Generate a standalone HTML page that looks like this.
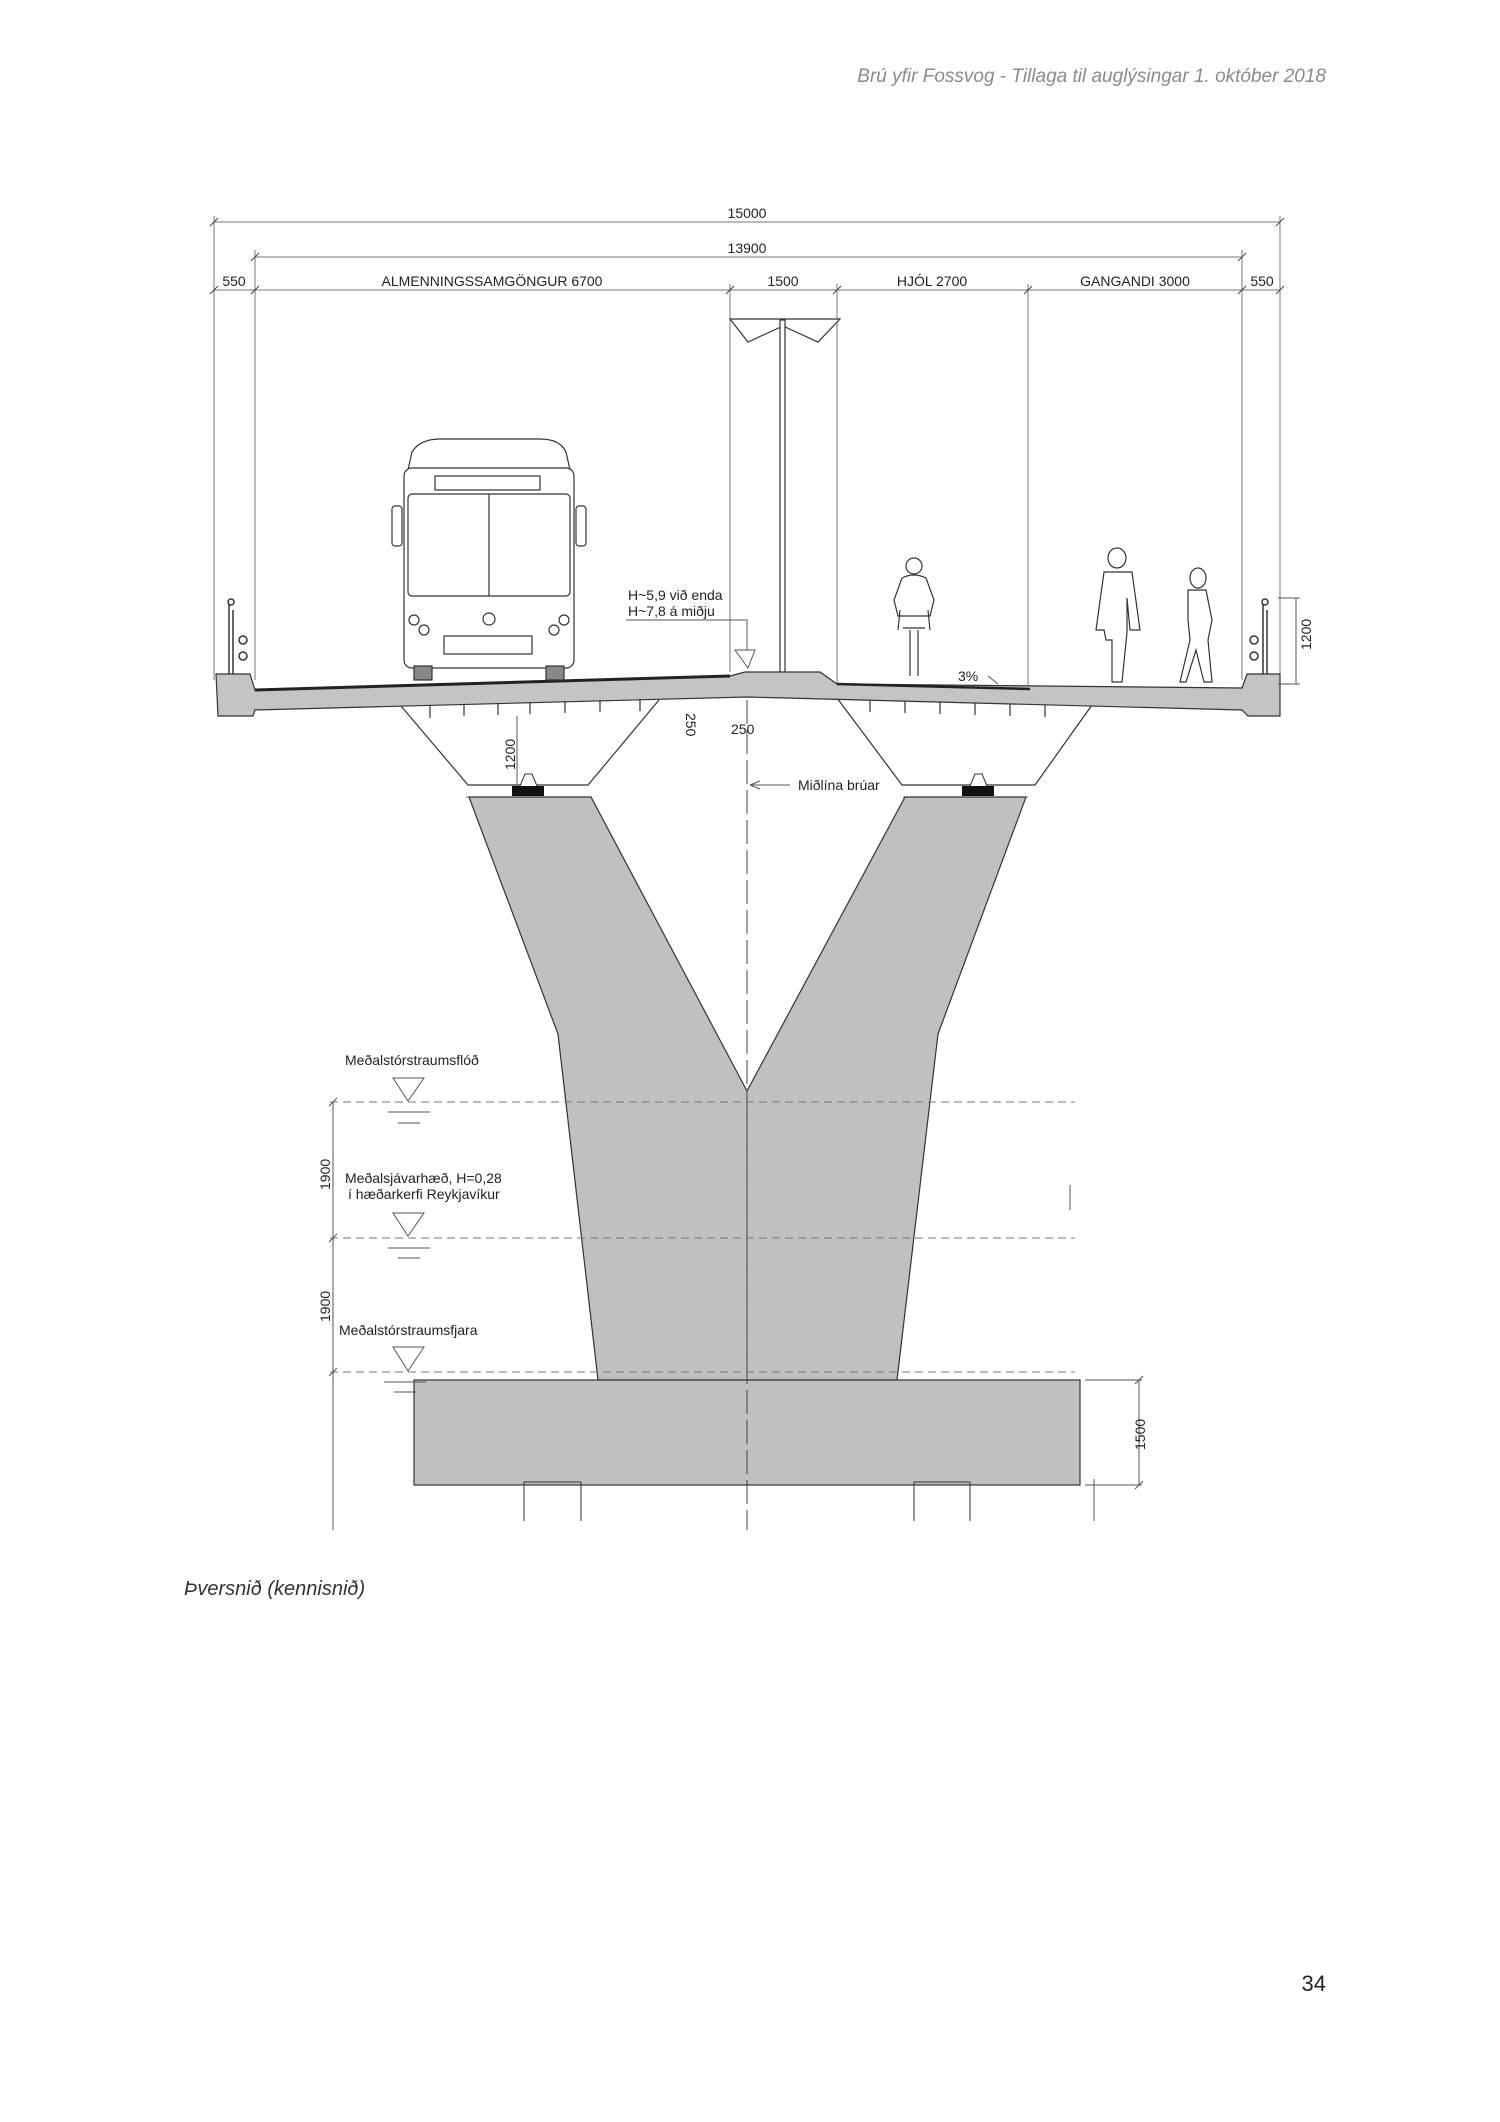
<!DOCTYPE html>
<html><head><meta charset="utf-8"><style>
html,body{margin:0;padding:0;background:#fff;}
body{width:1500px;height:2122px;position:relative;overflow:hidden;}
svg{position:absolute;left:0;top:0;}
</style></head><body>
<svg width="1500" height="2122" viewBox="0 0 1500 2122" xmlns="http://www.w3.org/2000/svg" font-family="Liberation Sans, sans-serif">
<text x="1326" y="82" text-anchor="end" font-size="19" font-style="italic" fill="#8a8a8a" font-family="Liberation Sans, DejaVu Sans, sans-serif">Brú yfir Fossvog - Tillaga til auglýsingar 1. október 2018</text>
<text x="184" y="1595" font-size="20" font-style="italic" fill="#333">Þversnið (kennisnið)</text>
<text x="1326" y="1991" text-anchor="end" font-size="22" fill="#222">34</text>

<g stroke="#777" stroke-width="1" fill="none">
<line x1="214" y1="222" x2="1280" y2="222"/>
<line x1="255" y1="257" x2="1242" y2="257"/>
<line x1="214" y1="290" x2="1280" y2="290"/>
<line x1="214" y1="216" x2="214" y2="680"/>
<line x1="255" y1="250" x2="255" y2="680"/>
<line x1="730" y1="284" x2="730" y2="672"/>
<line x1="837" y1="284" x2="837" y2="690"/>
<line x1="1028" y1="284" x2="1028" y2="685"/>
<line x1="1242" y1="250" x2="1242" y2="680"/>
<line x1="1280" y1="216" x2="1280" y2="680"/>
<g stroke="#444"><path d="M210 226l8-8M251 261l8-8M1238 261l8-8M1276 226l8-8M210 294l8-8M251 294l8-8M726 294l8-8M833 294l8-8M1024 294l8-8M1238 294l8-8M1276 294l8-8"/></g>
</g>
<g font-size="14" fill="#222" text-anchor="middle">
<text x="747" y="218">15000</text>
<text x="747" y="253">13900</text>
<text x="234" y="286">550</text>
<text x="492" y="286">ALMENNINGSSAMGÖNGUR 6700</text>
<text x="783" y="286">1500</text>
<text x="932" y="286">HJÓL 2700</text>
<text x="1135" y="286">GANGANDI 3000</text>
<text x="1262" y="286">550</text>
</g>

<!-- lamp -->
<g stroke="#333" stroke-width="1.2" fill="#fff">
<path d="M730 319H840L818 342L783 326L748 342Z"/>
<rect x="780" y="320" width="5" height="356"/>
</g>

<!-- haunches -->
<g stroke="#333" stroke-width="1.2" fill="#fff">
<path d="M401 706L468 785H588L659 700"/>
<path d="M837 698L902 785H1035L1092 705"/>
</g>
<!-- deck -->
<path d="M216 674L250 674L255 690L730 676L745 672L820 672L837 684L1242 688L1247 674H1280L1280 716L1248 716L1242 710L747 697L255 710L253 716L218 716Z" fill="#c4c4c4" stroke="#333" stroke-width="1.2"/>
<path d="M255 690L730 676" stroke="#222" stroke-width="3"/>
<path d="M837 684L1030 689" stroke="#222" stroke-width="2.5"/>
<g stroke="#333" stroke-width="1.2"><path d="M430 706v12M464 704v12M498 703v12M530 702v12M565 701v12M600 700v12M640 699v12M870 700v12M905 701v12M940 702v12M975 703v12M1010 704v12M1045 705v12"/></g>
<!-- bearings -->
<rect x="512" y="786" width="32" height="10" fill="#111"/>
<rect x="962" y="786" width="32" height="10" fill="#111"/>
<path d="M520 786L525 774H532L537 786" stroke="#333" fill="#fff"/>
<path d="M970 786L975 774H982L987 786" stroke="#333" fill="#fff"/>
<path d="M466 797H590M903 797H1028" stroke="#666"/>

<!-- pier -->
<path d="M469 797H591L747 1091L905 797H1026L938 1034L897 1380H598L558 1034Z" fill="#c0c0c0" stroke="#333" stroke-width="1.2"/>
<rect x="414" y="1380" width="666" height="105" fill="#c0c0c0" stroke="#333" stroke-width="1.2"/>
<path d="M524 1521V1482H581V1521M914 1521V1482H970V1521" stroke="#333" fill="none"/>
<line x1="747" y1="1091" x2="747" y2="1380" stroke="#333"/>
<line x1="747" y1="700" x2="747" y2="1530" stroke="#444" stroke-dasharray="24,6"/>

<!-- water lines -->
<g stroke="#777" stroke-dasharray="8,5"><line x1="330" y1="1102" x2="1075" y2="1102"/><line x1="330" y1="1238" x2="1075" y2="1238"/><line x1="330" y1="1372" x2="1075" y2="1372"/></g>
<g stroke="#555" fill="none">
<path d="M393 1078H424L408 1101Z M388 1112H430M398 1123H420"/>
<path d="M393 1213H424L408 1236Z M388 1248H430M398 1258H420"/>
<path d="M393 1347H424L408 1371Z M384 1382H426M394 1392H416"/>
<line x1="333" y1="1102" x2="333" y2="1530"/>
<path d="M329 1106l8-8M329 1242l8-8M329 1376l8-8"/>
<path d="M1085 1380H1142M1085 1485H1142M1139 1380V1485M1094 1479V1521M1070 1185V1210"/>
<path d="M1135 1384l8-8M1135 1489l8-8"/>
</g>
<g font-size="14" fill="#222">
<text x="345" y="1065">Meðalstórstraumsflóð</text>
<text x="345" y="1183">Meðalsjávarhæð, H=0,28</text>
<text x="348" y="1199">í hæðarkerfi Reykjavíkur</text>
<text x="339" y="1335">Meðalstórstraumsfjara</text>
<text transform="translate(330,1190) rotate(-90)">1900</text>
<text transform="translate(330,1322) rotate(-90)">1900</text>
<text transform="translate(1145,1450) rotate(-90)">1500</text>
<text transform="translate(1311,650) rotate(-90)">1200</text>
<text transform="translate(515,770) rotate(-90)">1200</text>
<text transform="translate(686,713) rotate(90)">250</text>
<text x="731" y="734">250</text>
<text x="628" y="600">H~5,9 við enda</text>
<text x="628" y="616">H~7,8 á miðju</text>
<text x="958" y="681">3%</text>
<text x="798" y="790">Miðlína brúar</text>
</g>
<g stroke="#555" fill="none">
<path d="M626 620H747V650M735 650H755L748 668Z"/>
<path d="M517 716V786"/>
<path d="M1278 598H1300M1278 684H1300M1296 598V684"/>
<path d="M750 785H790M750 785l10-4M750 785l10 4"/>
<path d="M988 676l10 8"/>
</g>

<!-- bus -->
<g stroke="#333" stroke-width="1.2" fill="#fff">
<path d="M412 452Q420 439 440 439H540Q560 439 566 452L570 470H408Z"/>
<rect x="404" y="468" width="170" height="200" rx="8"/>
<rect x="435" y="476" width="105" height="14"/>
<rect x="408" y="494" width="162" height="102" rx="4"/>
<line x1="489" y1="494" x2="489" y2="596"/>
<rect x="392" y="506" width="10" height="40" rx="3"/>
<rect x="576" y="506" width="10" height="40" rx="3"/>
<rect x="444" y="636" width="88" height="18"/>
<circle cx="489" cy="619" r="6"/>
<circle cx="414" cy="620" r="5"/><circle cx="424" cy="630" r="5"/>
<circle cx="564" cy="620" r="5"/><circle cx="554" cy="630" r="5"/>
<rect x="414" y="666" width="18" height="14" fill="#888"/>
<rect x="546" y="666" width="18" height="14" fill="#888"/>
</g>

<!-- railings -->
<g stroke="#333" stroke-width="1.5" fill="#fff">
<path d="M229 600V674M233 610V674"/><circle cx="231" cy="602" r="3"/>
<circle cx="243" cy="640" r="4"/><circle cx="243" cy="656" r="4"/>
<path d="M1263 600V674M1267 610V674"/><circle cx="1265" cy="602" r="3"/>
<circle cx="1254" cy="640" r="4"/><circle cx="1254" cy="656" r="4"/>
</g>

<!-- cyclist -->
<g stroke="#333" stroke-width="1.2" fill="#fff">
<circle cx="914" cy="566" r="8"/>
<path d="M902 578Q914 572 926 578L934 600L930 616H898L894 600Z"/>
<path d="M900 610L898 630M928 610L930 630M903 628H925"/>
<path d="M910 630V676M918 630V676"/>
</g>
<!-- pedestrians -->
<g stroke="#333" stroke-width="1.2" fill="#fff">
<ellipse cx="1117" cy="558" rx="9" ry="10"/>
<path d="M1104 572H1132L1140 630H1130L1127 598V632L1122 682H1112L1112 640H1106L1104 630L1096 630Z"/>
<ellipse cx="1198" cy="578" rx="8" ry="10"/>
<path d="M1188 590H1206L1212 620L1208 640L1212 682H1204L1196 650L1186 682H1180L1190 640L1188 620Z"/>
</g>
</svg>
</body></html>
